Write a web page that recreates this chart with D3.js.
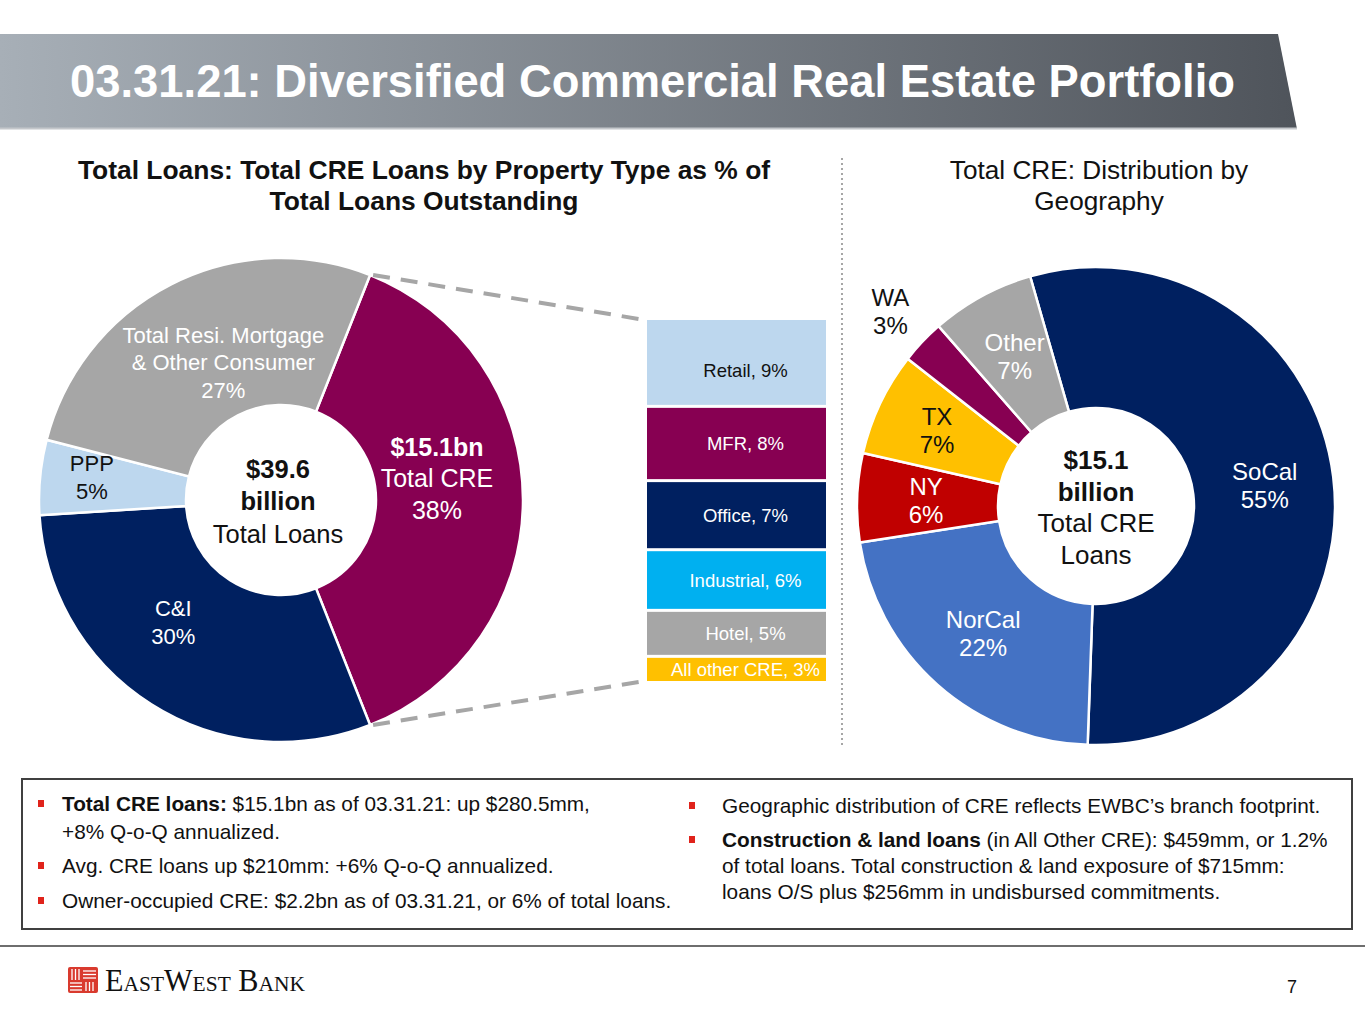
<!DOCTYPE html>
<html>
<head>
<meta charset="utf-8">
<script src="https://cdn.jsdelivr.net/npm/d3@7"></script>
<style>
  body { margin: 0; background: #fff; }
  svg { display: block; font-family: "Liberation Sans", Arial, sans-serif; }
</style>
</head>
<body>
<div id="slide"></div>
<script>
// Data
var loanCats = ["Total CRE", "C&I", "PPP", "Total Resi. Mortgage & Other Consumer"];
var loanPcts = [38, 30, 5, 27];
var loanLabelLines = [
  [{t: "$15.1bn", b: true}, {t: "Total CRE"}, {t: "38%"}],
  [{t: "C&I"}, {t: "30%"}],
  [{t: "PPP"}, {t: "5%"}],
  [{t: "Total Resi. Mortgage"}, {t: "& Other Consumer"}, {t: "27%"}]
];
var creTypes = ["Retail", "MFR", "Office", "Industrial", "Hotel", "All other CRE"];
var creShares = [9.17, 7.75, 7.21, 6.33, 4.80, 2.73];
var creLabels = ["9%", "8%", "7%", "6%", "5%", "3%"];
var geoRegions = ["SoCal", "NorCal", "NY", "TX", "WA", "Other"];
var geoPcts = [55, 22, 6, 7, 3, 7];

// Styles
var loanColors = ["#870052", "#002060", "#bdd7ee", "#a6a6a6"];
var loanText = ["#fff", "#fff", "#111", "#fff"];
var creColors = ["#bdd7ee", "#870052", "#002060", "#00b0f0", "#a6a6a6", "#ffc000"];
var creText = ["#111", "#fff", "#fff", "#fff", "#fff", "#fff"];
var geoColors = ["#002060", "#4472c4", "#c00000", "#ffc000", "#870052", "#a6a6a6"];
var geoText = ["#fff", "#fff", "#fff", "#111", "#111", "#fff"];

var W = 1365, H = 1024;
var svg = d3.select("#slide").append("svg")
  .attr("width", W)
  .attr("height", H);

var defs = svg.append("defs");
var grad = defs.append("linearGradient").attr("id", "titleGrad")
  .attr("x1", "0%").attr("x2", "100%").attr("y1", "0%").attr("y2", "0%");
grad.append("stop").attr("offset", "0%").attr("stop-color", "#a7afb7");
grad.append("stop").attr("offset", "100%").attr("stop-color", "#4f545b");

// Title banner
svg.append("polygon")
  .attr("points", "0,34 1278,34 1297,129 0,129")
  .attr("fill", "url(#titleGrad)");
svg.append("line")
  .attr("x1", 0).attr("x2", 1297).attr("y1", 128.5).attr("y2", 128.5)
  .attr("stroke", "#c4c7cb").attr("stroke-width", 2);
svg.append("text")
  .attr("x", 70).attr("y", 97)
  .attr("fill", "#fff")
  .attr("font-weight", "bold")
  .attr("font-size", 46)
  .attr("textLength", 1165)
  .attr("lengthAdjust", "spacingAndGlyphs")
  .text("03.31.21: Diversified Commercial Real Estate Portfolio");

// helper for multi-line centred labels
function drawLines(g, x, y, lines, size, lineH, color) {
  var n = lines.length;
  var t = g.append("text")
    .attr("text-anchor", "middle")
    .attr("font-size", size)
    .attr("fill", color);
  lines.forEach(function(l, i) {
    t.append("tspan")
      .attr("x", x)
      .attr("y", y - (n - 1) * lineH / 2 + i * lineH + size * 0.36)
      .attr("font-weight", l.b ? "bold" : null)
      .text(l.t);
  });
  return t;
}

// Section subtitles
drawLines(svg, 424, 185, [{t: "Total Loans: Total CRE Loans by Property Type as % of", b: true},
  {t: "Total Loans Outstanding", b: true}], 26.4, 31, "#111");
drawLines(svg, 1099, 185, [{t: "Total CRE: Distribution by"}, {t: "Geography"}], 26.2, 31, "#111");

// separator
svg.append("line")
  .attr("x1", 842).attr("x2", 842).attr("y1", 158).attr("y2", 746)
  .attr("stroke", "#a6a6a6").attr("stroke-width", 2)
  .attr("stroke-dasharray", "2 3");

// ---------- Left donut: total loans ----------
var lc = {x: 281, y: 500}, lR = 242, lr = 95;
var lStart = Math.PI / 2 - (loanPcts[0] / 100) * Math.PI;
var loanPie = d3.pie().sort(null).value(d => d)
  .startAngle(lStart).endAngle(lStart + 2 * Math.PI);
var loanArcs = loanPie(loanPcts);
var loanArc = d3.arc().innerRadius(lr).outerRadius(lR);

var leftG = svg.append("g").attr("transform", `translate(${lc.x},${lc.y})`);
leftG.selectAll("path")
  .data(loanArcs)
  .enter()
  .append("path")
  .attr("d", loanArc)
  .attr("fill", (d, i) => loanColors[i])
  .attr("stroke", "#fff")
  .attr("stroke-width", 2.5);

var loanLabelR = [160, 160, 190, 160];
var loanNudge = [[-4, -22], [-22, -13], [0, -5], [15, 5]];
loanArcs.forEach(function(d, i) {
  var c = d3.arc().innerRadius(loanLabelR[i]).outerRadius(loanLabelR[i]).centroid(d);
  var big = i === 0;
  drawLines(leftG, c[0] + loanNudge[i][0], c[1] + loanNudge[i][1], loanLabelLines[i],
    big ? 25 : 22, big ? 31.5 : 27.5, loanText[i]);
});
drawLines(leftG, -3, 1, [{t: "$39.6", b: true}, {t: "billion", b: true}, {t: "Total Loans"}], 25.5, 32.5, "#111");

// ---------- CRE breakdown stack ----------
var barX = 647, barW = 179, gap = 3;
var creTotal = d3.sum(creShares);
var yStack = d3.scaleLinear().domain([0, creTotal]).range([320, 681 + gap]);
var cum = 0;
var stack = creShares.map(function(v, i) {
  var s = {i: i, y0: cum, y1: cum + v};
  cum += v;
  return s;
});

// dashed connectors from CRE slice to stack
var creSlice = loanArcs[0];
[[creSlice.startAngle, yStack(0)], [creSlice.endAngle, yStack(creTotal) - gap]].forEach(function(p) {
  svg.append("line")
    .attr("x1", lc.x + lR * Math.sin(p[0]) + 3)
    .attr("y1", lc.y - lR * Math.cos(p[0]))
    .attr("x2", barX - 2)
    .attr("y2", p[1])
    .attr("stroke", "#a6a6a6")
    .attr("stroke-width", 4)
    .attr("stroke-dasharray", "17 11");
});

var barG = svg.append("g");
barG.selectAll("rect")
  .data(stack)
  .enter()
  .append("rect")
  .attr("x", barX)
  .attr("y", d => yStack(d.y0))
  .attr("width", barW)
  .attr("height", d => yStack(d.y1) - yStack(d.y0) - gap)
  .attr("fill", d => creColors[d.i]);
barG.selectAll("text")
  .data(stack)
  .enter()
  .append("text")
  .attr("x", barX + barW / 2 + 9)
  .attr("y", d => (yStack(d.y0) + yStack(d.y1) - gap) / 2 + 6.5 + (d.i === 0 ? 8 : 0))
  .attr("text-anchor", "middle")
  .attr("font-size", 18.5)
  .attr("fill", d => creText[d.i])
  .text(d => creTypes[d.i] + ", " + creLabels[d.i]);

// ---------- Right donut: geography ----------
var rc = {x: 1096, y: 506}, rR = 239, rr = 98;
var rStart = -16 * Math.PI / 180;
var geoPie = d3.pie().sort(null).value(d => d)
  .startAngle(rStart).endAngle(rStart + 2 * Math.PI);
var geoArcs = geoPie(geoPcts);
var geoArc = d3.arc().innerRadius(rr).outerRadius(rR);

var rightG = svg.append("g").attr("transform", `translate(${rc.x},${rc.y})`);
rightG.selectAll("path")
  .data(geoArcs)
  .enter()
  .append("path")
  .attr("d", geoArc)
  .attr("fill", (d, i) => geoColors[i])
  .attr("stroke", "#fff")
  .attr("stroke-width", 2.5);

var geoLabelR = [170, 170, 170, 176, 283, 170];
geoArcs.forEach(function(d, i) {
  var c = d3.arc().innerRadius(geoLabelR[i]).outerRadius(geoLabelR[i]).centroid(d);
  drawLines(rightG, c[0], c[1], [{t: geoRegions[i]}, {t: geoPcts[i] + "%"}], 24, 28, geoText[i]);
});
drawLines(rightG, 0, 1, [{t: "$15.1", b: true}, {t: "billion", b: true}, {t: "Total CRE"}, {t: "Loans"}], 26, 31.5, "#111");

// ---------- Commentary box ----------
svg.append("rect")
  .attr("x", 22).attr("y", 779).attr("width", 1330).attr("height", 150)
  .attr("fill", "none").attr("stroke", "#404040").attr("stroke-width", 2);

function bullet(x, y) {
  svg.append("rect").attr("x", x).attr("y", y - 11).attr("width", 6).attr("height", 7)
    .attr("fill", "#e0231b");
}
function para(x, y, parts) {
  var t = svg.append("text").attr("x", x).attr("y", y).attr("font-size", 20.8).attr("fill", "#111");
  parts.forEach(function(p) {
    t.append("tspan").attr("font-weight", p.b ? "bold" : null).text(p.t);
  });
}
bullet(38, 811);
para(62, 811, [{t: "Total CRE loans:", b: true}, {t: " $15.1bn as of 03.31.21: up $280.5mm,"}]);
para(62, 839, [{t: "+8% Q-o-Q annualized."}]);
bullet(38, 873);
para(62, 873, [{t: "Avg. CRE loans up $210mm: +6% Q-o-Q annualized."}]);
bullet(38, 908);
para(62, 908, [{t: "Owner-occupied CRE: $2.2bn as of 03.31.21, or 6% of total loans."}]);

bullet(689, 813);
para(722, 813, [{t: "Geographic distribution of CRE reflects EWBC\u2019s branch footprint."}]);
bullet(689, 847);
para(722, 847, [{t: "Construction & land loans", b: true}, {t: " (in All Other CRE): $459mm, or 1.2%"}]);
para(722, 873, [{t: "of total loans. Total construction & land exposure of $715mm:"}]);
para(722, 899, [{t: "loans O/S plus $256mm in undisbursed commitments."}]);

// ---------- Footer ----------
svg.append("line")
  .attr("x1", 0).attr("x2", W).attr("y1", 946).attr("y2", 946)
  .attr("stroke", "#6e6e6e").attr("stroke-width", 2);

var logo = svg.append("g");
logo.append("rect").attr("x", 68).attr("y", 967).attr("width", 30).attr("height", 26)
  .attr("rx", 2).attr("fill", "#d93a2e");
var stripes = [
  [72, 969, 72, 980], [75.5, 969, 75.5, 980], [79, 969, 79, 980],
  [83, 971, 96, 971], [83, 974.5, 96, 974.5], [83, 978, 96, 978],
  [70, 983, 82, 983], [70, 986.5, 82, 986.5], [70, 990, 82, 990],
  [86, 982, 86, 991], [89.5, 982, 89.5, 991], [93, 982, 93, 991]
];
logo.selectAll("line.s")
  .data(stripes)
  .enter()
  .append("line")
  .attr("x1", d => d[0]).attr("y1", d => d[1])
  .attr("x2", d => d[2]).attr("y2", d => d[3])
  .attr("stroke", "#fff").attr("stroke-width", 1.3);
logo.append("text")
  .attr("x", 105).attr("y", 991)
  .attr("font-family", "'Liberation Serif', 'Times New Roman', serif")
  .attr("font-size", 31)
  .attr("font-variant", "small-caps")
  .attr("fill", "#111")
  .attr("textLength", 200)
  .attr("lengthAdjust", "spacingAndGlyphs")
  .text("EastWest Bank");

svg.append("text")
  .attr("x", 1292).attr("y", 993)
  .attr("text-anchor", "middle")
  .attr("font-size", 18)
  .attr("fill", "#111")
  .text("7");
</script>
</body>
</html>
